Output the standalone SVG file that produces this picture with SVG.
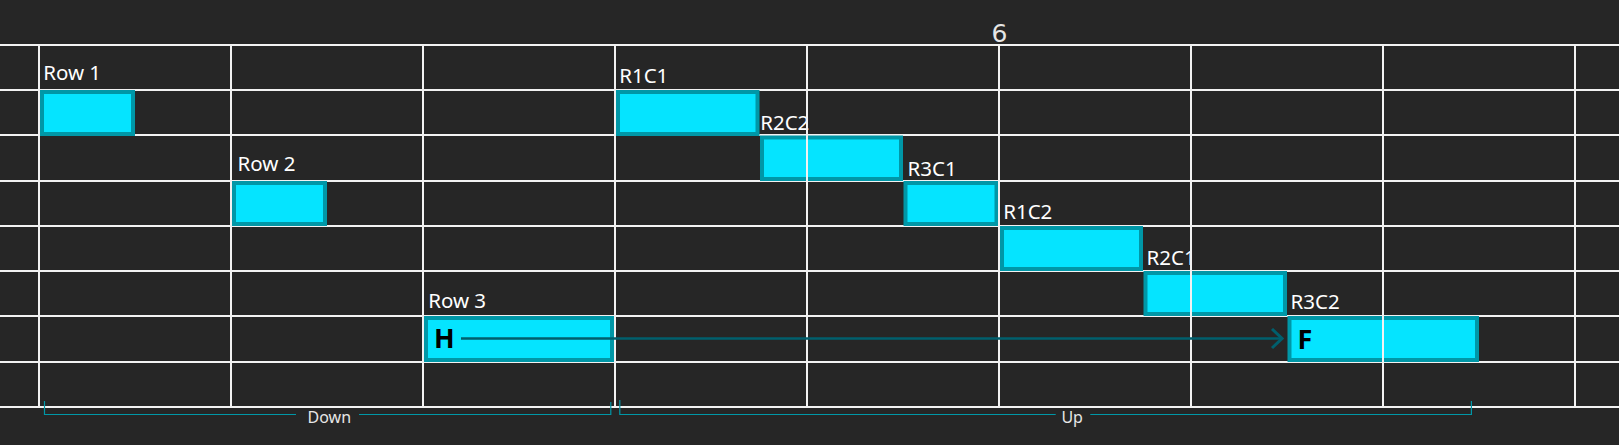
<svg xmlns="http://www.w3.org/2000/svg" width="1619" height="445" viewBox="0 0 1619 445">
<style>
.grid line{stroke:#f2f2f2;stroke-width:2}
.bar{fill:#05e4ff;stroke:#0097a7;stroke-width:4}
.lbl{font-family:"Noto Sans","Open Sans",sans-serif;font-size:20.5px;fill:#ffffff}
.big{font-family:"Noto Sans","Open Sans",sans-serif;font-size:27px;font-weight:bold;fill:#000}
.br{fill:none;stroke:#0097a7;stroke-width:1.2}
.brt{font-family:"Noto Sans","Open Sans",sans-serif;font-size:16px;fill:#e6e6e6;text-anchor:middle}
.conn{fill:none;stroke:#005f6d;stroke-width:2.6}
</style>
<defs>
<marker id="chev" viewBox="0 0 14 22" refX="12" refY="11" markerWidth="14" markerHeight="22" markerUnits="userSpaceOnUse" orient="auto">
<path d="M2,1.5 L12,11 L2,20.5" fill="none" stroke="#005f6d" stroke-width="3"/>
</marker>
</defs>
<rect x="0" y="0" width="1619" height="445" fill="#262626"/>
<g id="grid-rows" class="grid">
<line x1="0" y1="45" x2="1619" y2="45"/>
<line x1="0" y1="90" x2="1619" y2="90"/>
<line x1="0" y1="135" x2="1619" y2="135"/>
<line x1="0" y1="181" x2="1619" y2="181"/>
<line x1="0" y1="226" x2="1619" y2="226"/>
<line x1="0" y1="271" x2="1619" y2="271"/>
<line x1="0" y1="316" x2="1619" y2="316"/>
<line x1="0" y1="362" x2="1619" y2="362"/>
<line x1="0" y1="407" x2="1619" y2="407"/>
</g>
<text x="999.5" y="41.5" font-family="DejaVu Sans, sans-serif" font-size="25" fill="#e6e6e6" text-anchor="middle">6</text>
<g id="row1">
<rect class="bar" x="42" y="92" width="91" height="42"/>
<text class="lbl" x="43.2" y="80">Row 1</text>
</g>
<g id="row2">
<rect class="bar" x="234" y="183" width="91" height="41"/>
<text class="lbl" x="237.5" y="171">Row 2</text>
</g>
<g id="row3">
<rect class="bar" x="426" y="318" width="186" height="42"/>
<text class="lbl" x="428.2" y="307.7">Row 3</text>
<text class="big" x="434" y="348.3">H</text>
</g>
<g id="r1c1">
<rect class="bar" x="618" y="92" width="139.5" height="42"/>
<text class="lbl" x="619.2" y="82.5">R1C1</text>
</g>
<g id="r2c2">
<rect class="bar" x="762" y="137.5" width="139" height="41.5"/>
<text class="lbl" x="760.2" y="130">R2C2</text>
</g>
<g id="r3c1">
<rect class="bar" x="905.5" y="183" width="91" height="41"/>
<text class="lbl" x="907.5" y="175.7">R3C1</text>
</g>
<g id="r1c2">
<rect class="bar" x="1002" y="228" width="139" height="41"/>
<text class="lbl" x="1003.2" y="219.3">R1C2</text>
</g>
<g id="r2c1">
<rect class="bar" x="1145.5" y="273" width="139.5" height="41"/>
<text class="lbl" x="1146.5" y="264.7">R2C1</text>
</g>
<g id="r3c2">
<rect class="bar" x="1289.5" y="318" width="187.5" height="42"/>
<text class="lbl" x="1290.5" y="309">R3C2</text>
<text class="big" x="1297.6" y="349">F</text>
</g>
<g id="grid-cols" class="grid">
<line x1="39" y1="45" x2="39" y2="407"/>
<line x1="231" y1="45" x2="231" y2="407"/>
<line x1="423" y1="45" x2="423" y2="407"/>
<line x1="615" y1="45" x2="615" y2="407"/>
<line x1="807" y1="45" x2="807" y2="407"/>
<line x1="999" y1="45" x2="999" y2="407"/>
<line x1="1191" y1="45" x2="1191" y2="407"/>
<line x1="1383" y1="45" x2="1383" y2="407"/>
<line x1="1575" y1="45" x2="1575" y2="407"/>
</g>
<g id="connectors">
<line class="conn" x1="461" y1="338.5" x2="1282" y2="338.5" marker-end="url(#chev)"/>
</g>
<g id="brackets">
<path class="br" d="M44.5,401 V414.5 H296 M359,414.5 H610.8 V402"/>
<text class="brt" x="329.3" y="423.3">Down</text>
<path class="br" d="M619.8,400 V414.5 H1055.7 M1090.3,414.5 H1471.4 V401"/>
<text class="brt" x="1072.2" y="423.3">Up</text>
</g>
</svg>
